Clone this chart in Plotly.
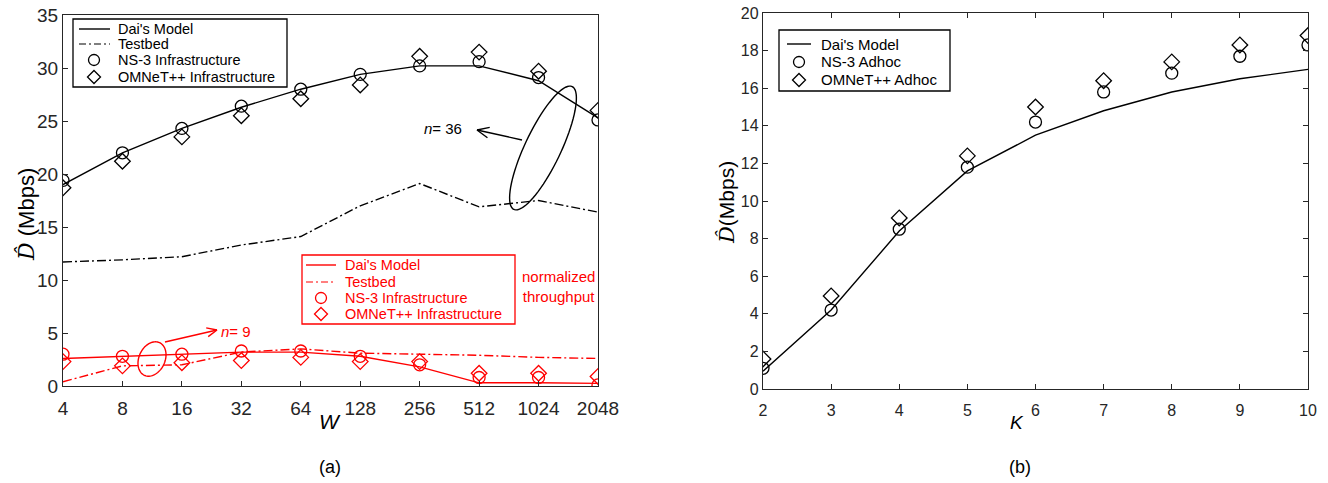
import numpy as np
import plotly.graph_objects as go

W_VALUES = [4, 8, 16, 32, 64, 128, 256, 512, 1024, 2048]
W_LABELS = [str(w) for w in W_VALUES]

DAI_INFRA = [19.0, 22.0, 24.3, 26.3, 28.0, 29.4, 30.2, 30.2, 28.8, 25.3]
TESTBED_INFRA = [11.7, 11.9, 12.2, 13.3, 14.1, 17.0, 19.1, 16.9, 17.5, 16.4]
NS3_INFRA = [19.4, 22.0, 24.3, 26.4, 28.0, 29.4, 30.2, 30.6, 29.1, 25.1]
OMNET_INFRA = [18.7, 21.2, 23.5, 25.5, 27.1, 28.4, 31.1, 31.5, 29.7, 26.0]

DAI_NORM = [2.6, 2.8, 3.0, 3.2, 3.2, 2.8, 1.8, 0.3, 0.3, 0.25]
TESTBED_NORM = [0.4, 1.9, 2.0, 3.2, 3.5, 3.1, 3.0, 2.9, 2.7, 2.6]
NS3_NORM = [3.0, 2.8, 3.0, 3.3, 3.3, 2.8, 2.0, 0.8, 0.8, 0.1]
OMNET_NORM = [2.3, 1.9, 2.2, 2.4, 2.7, 2.3, 2.3, 1.2, 1.2, 0.9]

K_VALUES = [2, 3, 4, 5, 6, 7, 8, 9, 10]
DAI_ADHOC = [0.95, 4.2, 8.4, 11.6, 13.5, 14.8, 15.8, 16.5, 17.0]
NS3_ADHOC = [1.1, 4.2, 8.5, 11.8, 14.2, 15.8, 16.8, 17.7, 18.3]
OMNET_ADHOC = [1.6, 4.95, 9.1, 12.4, 15.0, 16.4, 17.4, 18.3, 18.8]

LEGEND_A = ["Dai's Model", "Testbed", "NS-3 Infrastructure", "OMNeT++ Infrastructure"]
LEGEND_B = ["Dai's Model", "NS-3 Adhoc", "OMNeT++ Adhoc"]

WIDTH, HEIGHT = 1328, 483
FONT = "Liberation Sans, Arial, sans-serif"
AX = "#262626"
RED = "#ff0000"
DASHDOT = "9px,3px,2px,3px"


def px(x, y):
    """Screen pixel position -> paper coordinates."""
    return x / WIDTH, 1 - y / HEIGHT


fig = go.Figure()


def line_trace(x, y, name, color, dash=None, xa="x", ya="y"):
    fig.add_trace(go.Scatter(x=x, y=y, mode="lines", name=name, showlegend=False,
                             line=dict(color=color, width=1.4, dash=dash),
                             xaxis=xa, yaxis=ya))


def marker_trace(x, y, name, color, symbol, size, xa="x", ya="y"):
    fig.add_trace(go.Scatter(x=x, y=y, mode="markers", name=name, showlegend=False,
                             marker=dict(symbol=symbol, size=size, color=color, line=dict(width=1.3)),
                             xaxis=xa, yaxis=ya))


# ---- panel (a) black ----
line_trace(W_VALUES, DAI_INFRA, LEGEND_A[0], "black")
line_trace(W_VALUES, TESTBED_INFRA, LEGEND_A[1], "black", DASHDOT)
marker_trace(W_VALUES, NS3_INFRA, LEGEND_A[2], "black", "circle-open", 12)
marker_trace(W_VALUES, OMNET_INFRA, LEGEND_A[3], "black", "diamond-open", 12)
# ---- panel (a) red (normalized) ----
line_trace(W_VALUES, DAI_NORM, LEGEND_A[0], RED)
line_trace(W_VALUES, TESTBED_NORM, LEGEND_A[1], RED, DASHDOT)
marker_trace(W_VALUES, NS3_NORM, LEGEND_A[2], RED, "circle-open", 12)
marker_trace(W_VALUES, OMNET_NORM, LEGEND_A[3], RED, "diamond-open", 12)
# ---- panel (b) ----
line_trace(K_VALUES, DAI_ADHOC, LEGEND_B[0], "black", xa="x2", ya="y2")
marker_trace(K_VALUES, NS3_ADHOC, LEGEND_B[1], "black", "circle-open", 12, xa="x2", ya="y2")
marker_trace(K_VALUES, OMNET_ADHOC, LEGEND_B[2], "black", "diamond-open", 12, xa="x2", ya="y2")

ax_common = dict(showgrid=False, zeroline=False, showline=True, linecolor=AX, linewidth=1.3,
                 ticks="inside", ticklen=5, tickcolor=AX, automargin=False,
                 ticklabeloverflow="allow", tickfont=dict(family=FONT, color=AX))

xa0, ya0 = px(63, 386)
xa1, ya1 = px(598, 15)
xb0, yb0 = px(763, 389)
xb1, yb1 = px(1308, 13)

fig.update_layout(
    width=WIDTH, height=HEIGHT,
    margin=dict(l=0, r=0, t=0, b=0, autoexpand=False),
    paper_bgcolor="white", plot_bgcolor="white",
    font=dict(family=FONT, color="black"),
    showlegend=False,
    xaxis=dict(**ax_common, type="log", domain=[xa0, xa1],
               range=[np.log10(4), np.log10(2048)], tickvals=W_VALUES, ticktext=W_LABELS,
               mirror=True, tickfont_size=19, ticklabelstandoff=5, anchor="y"),
    yaxis=dict(**ax_common, domain=[ya0, ya1], range=[0, 35], dtick=5, mirror=True,
               tickfont_size=19, anchor="x"),
    xaxis2=dict(**ax_common, domain=[xb0, xb1], range=[2, 10], dtick=1, mirror="ticks",
                tickfont_size=16, ticklabelstandoff=7, anchor="y2"),
    yaxis2=dict(**ax_common, domain=[yb0, yb1], range=[0, 20], dtick=2, mirror="ticks",
                tickfont_size=16, anchor="x2"),
)

annotations = []
shapes = []


def text_at(x, y, text, size=14, color="black", angle=0, xanchor="center", family=FONT):
    xp, yp = px(x, y)
    annotations.append(dict(x=xp, y=yp, xref="paper", yref="paper", text=text, showarrow=False,
                            xanchor=xanchor, yanchor="middle", textangle=angle,
                            font=dict(family=family, size=size, color=color)))


def seg(x0, y0, x1, y1, color, width=1.4, dash=None):
    p0, p1 = px(x0, y0), px(x1, y1)
    shapes.append(dict(type="line", xref="paper", yref="paper", x0=p0[0], y0=p0[1],
                       x1=p1[0], y1=p1[1], line=dict(color=color, width=width, dash=dash)))


def rect(x0, y0, x1, y1, color):
    p0, p1 = px(x0, y0), px(x1, y1)
    shapes.append(dict(type="rect", xref="paper", yref="paper", x0=p0[0], y0=p0[1],
                       x1=p1[0], y1=p1[1], line=dict(color=color, width=1.3), fillcolor="white",
                       layer="above"))


def circle_sym(cx, cy, r, color):
    p0, p1 = px(cx - r, cy - r), px(cx + r, cy + r)
    shapes.append(dict(type="circle", xref="paper", yref="paper", x0=p0[0], y0=p0[1],
                       x1=p1[0], y1=p1[1], line=dict(color=color, width=1.3)))


def diamond_sym(cx, cy, r, color):
    pts = [px(cx, cy - r), px(cx + r, cy), px(cx, cy + r), px(cx - r, cy)]
    path = "M " + " L ".join(f"{p[0]:.5f},{p[1]:.5f}" for p in pts) + " Z"
    shapes.append(dict(type="path", xref="paper", yref="paper", path=path,
                       line=dict(color=color, width=1.3)))


def legend_box(box, rows, kinds, labels, sx0, sx1, mx, tx, color, size):
    rect(*box, color)
    for y, kind, label in zip(rows, kinds, labels):
        if kind == "line":
            seg(sx0, y, sx1, y, color)
        elif kind == "dashdot":
            seg(sx0, y, sx1, y, color, width=1.2, dash="7px,3px,2px,3px")
        elif kind == "circle":
            circle_sym(mx, y, 5.5, color)
        else:
            diamond_sym(mx, y, 6.5, color)
        text_at(tx, y, label, size=size, color=color, xanchor="left")


KINDS_A = ["line", "dashdot", "circle", "diamond"]
legend_box((73, 19, 287, 87), [29, 44, 60, 77], KINDS_A, LEGEND_A, 79, 110, 94, 116, "black", 14.5)
legend_box((302, 255, 515, 324), [265, 282, 298, 314], KINDS_A, LEGEND_A, 306, 336, 321, 343, RED, 14.5)
legend_box((779, 30, 950, 91), [44, 62, 80], ["line", "circle", "diamond"], LEGEND_B,
           787, 811, 799, 819, "black", 15)

dhat = "<span style='font-family:DejaVu Serif'><i>D\u0302</i></span>"
text_at(26, 215, dhat + " (Mbps)", size=22, angle=-90)
text_at(727, 203, dhat + "(Mbps)", size=21, angle=-90)
text_at(330, 421, "<i>W</i>", size=21)
text_at(1017, 422, "<i>K</i>", size=19)
text_at(330, 467, "(a)", size=18)
text_at(1020, 467, "(b)", size=18)
text_at(558, 286, "normalized<br>throughput", size=15, color=RED)
text_at(443, 129, "<i>n</i>= 36", size=15)
text_at(219, 331, "<i>n</i>= 9", size=15, color=RED, xanchor="left")


def ellipse(cx, cy, a, b, ang_deg, color):
    t = np.linspace(0, 2 * np.pi, 80)
    th = np.radians(ang_deg)
    xs = cx + a * np.cos(t) * np.cos(th) - b * np.sin(t) * np.sin(th)
    ys = cy + a * np.cos(t) * np.sin(th) + b * np.sin(t) * np.cos(th)
    pts = [px(x, y) for x, y in zip(xs, ys)]
    path = "M " + " L ".join(f"{p[0]:.5f},{p[1]:.5f}" for p in pts) + " Z"
    shapes.append(dict(type="path", xref="paper", yref="paper", path=path,
                       line=dict(color=color, width=1.4)))


def arrow(x0, y0, x1, y1, color, head=13, spread=24):
    d = np.arctan2(y0 - y1, x0 - x1)
    seg(x0, y0, x1, y1, color)
    for s in (-1, 1):
        a = d + s * np.radians(spread)
        seg(x1, y1, x1 + head * np.cos(a), y1 + head * np.sin(a), color)


ellipse(543, 148, 68, 18, -64.6, "black")
arrow(522, 140, 477, 130, "black")
ellipse(152, 359, 18, 13, -65, RED)
arrow(165, 342, 217, 330, RED, head=11)

fig.update_layout(annotations=annotations, shapes=shapes)
# remove the browser's default 8px body margin so the figure fills the window exactly
fig.write_html("out.html", config={"displayModeBar": False},
               post_script="document.body.style.margin='0px';")
